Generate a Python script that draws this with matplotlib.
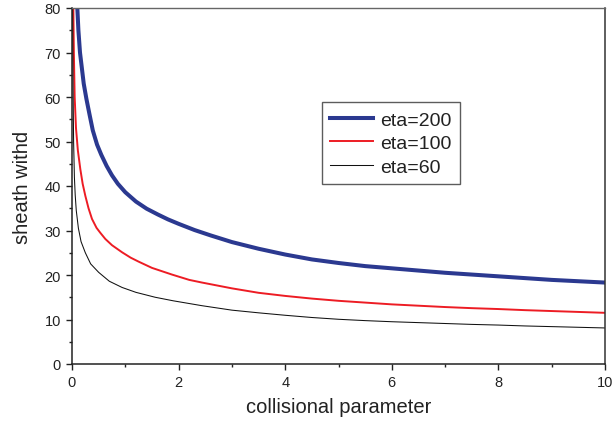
import matplotlib
matplotlib.use("Agg")
import matplotlib.pyplot as plt
from matplotlib.ticker import MultipleLocator

# Data
x_eta200 = [0.10, 0.12, 0.15, 0.18, 0.22, 0.27, 0.33, 0.39, 0.47, 0.55, 0.65, 0.75, 0.86, 1.0,
            1.2, 1.4, 1.61, 1.8, 2.0, 2.3, 2.6, 3.0, 3.5, 4.0, 4.5, 5.0, 5.5, 6.0, 6.5, 7.0,
            7.5, 8.0, 8.5, 9.0, 9.5, 10.0]
y_eta200 = [80, 75, 70, 67, 63, 59.6, 56, 52.5, 49.3, 47, 44.5, 42.4, 40.5, 38.6,
            36.5, 34.9, 33.6, 32.5, 31.5, 30.1, 28.9, 27.4, 25.9, 24.6, 23.5, 22.7, 22.0, 21.5, 21.0, 20.5,
            20.1, 19.7, 19.3, 18.9, 18.6, 18.3]

x_eta100 = [0.025, 0.035, 0.05, 0.075, 0.11, 0.156, 0.2, 0.25, 0.31, 0.375, 0.46, 0.53, 0.625,
            0.75, 0.94, 1.1, 1.25, 1.5, 1.875, 2.2, 2.44, 3.0, 3.5, 4.0, 4.5, 5.0, 5.5, 6.0,
            6.5, 7.0, 7.5, 8.0, 8.5, 9.0, 9.5, 10.0]
y_eta100 = [80, 70, 60, 53, 48, 43.8, 40.5, 37.8, 35, 32.6, 30.6, 29.5, 28.1,
            26.7, 25.1, 23.9, 23.0, 21.6, 20.1, 18.9, 18.3, 17.0, 16.0, 15.3, 14.7, 14.2, 13.8, 13.4,
            13.1, 12.8, 12.55, 12.35, 12.1, 11.9, 11.7, 11.5]

x_eta60 = [0.012, 0.02, 0.03, 0.045, 0.06, 0.08, 0.12, 0.17, 0.25, 0.35, 0.5, 0.7, 0.94, 1.2,
           1.56, 1.9, 2.44, 3.0, 3.5, 4.0, 4.5, 5.0, 5.5, 6.0, 6.5, 7.0, 7.5, 8.0, 8.5, 9.0,
           9.5, 10.0]
y_eta60 = [80, 62, 50, 42, 38, 34.5, 30.5, 27.5, 25.0, 22.5, 20.6, 18.6, 17.2, 16.1,
           15.0, 14.2, 13.1, 12.1, 11.5, 10.95, 10.45, 10.05, 9.75, 9.5, 9.3, 9.1, 8.9, 8.75, 8.55, 8.4,
           8.25, 8.1]

labels = ["eta=200", "eta=100", "eta=60"]
x_ticks = [0, 2, 4, 6, 8, 10]
y_ticks = [0, 10, 20, 30, 40, 50, 60, 70, 80]

plt.rcParams['font.family'] = ['Liberation Sans', 'DejaVu Sans']

fig = plt.figure(figsize=(6.14, 4.27), dpi=100)
ax = fig.add_axes([72/614, 62/427, 533/614, 356/427])

ax.plot(x_eta200, y_eta200, color='#2B3990', lw=2.9, label=labels[0],
        solid_joinstyle='round')
ax.plot(x_eta100, y_eta100, color='#ED1C24', lw=1.4, label=labels[1],
        solid_joinstyle='round')
ax.plot(x_eta60, y_eta60, color='#111111', lw=0.75, label=labels[2],
        solid_joinstyle='round')

ax.set_xlim(0, 10)
ax.set_ylim(0, 80)
ax.set_xticks(x_ticks)
ax.set_yticks(y_ticks)
ax.xaxis.set_minor_locator(MultipleLocator(1))
ax.yaxis.set_minor_locator(MultipleLocator(5))

ax.tick_params(which='major', direction='out', length=4.5, width=1.0, labelsize=10.5,
               colors='#222222', pad=3.5)
ax.tick_params(which='minor', direction='out', length=2.5, width=1.0, colors='#222222')
ax.tick_params(top=False, right=False)

for side in ['left', 'bottom']:
    ax.spines[side].set_linewidth(1.1)
    ax.spines[side].set_color('#222222')
ax.spines['top'].set_color('#666666')
ax.spines['top'].set_linewidth(1.0)
ax.spines['right'].set_color('#333333')
ax.spines['right'].set_linewidth(1.1)

ax.set_xlabel('collisional parameter', fontsize=14.5, color='#222222', labelpad=6)
ax.set_ylabel('sheath withd', fontsize=14.5, color='#222222', labelpad=9)

leg = ax.legend(loc='upper left', bbox_to_anchor=(321.7/614, 1 - 103.3/427),
                bbox_transform=fig.transFigure, borderaxespad=0, fontsize=14,
                handlelength=2.2, handletextpad=0.35, labelspacing=0.3,
                borderpad=0.45, fancybox=False, frameon=True)
leg.get_frame().set_edgecolor('#333333')
leg.get_frame().set_linewidth(1.0)
for t in leg.get_texts():
    t.set_color('#222222')

fig.savefig('out.png', dpi=100)
